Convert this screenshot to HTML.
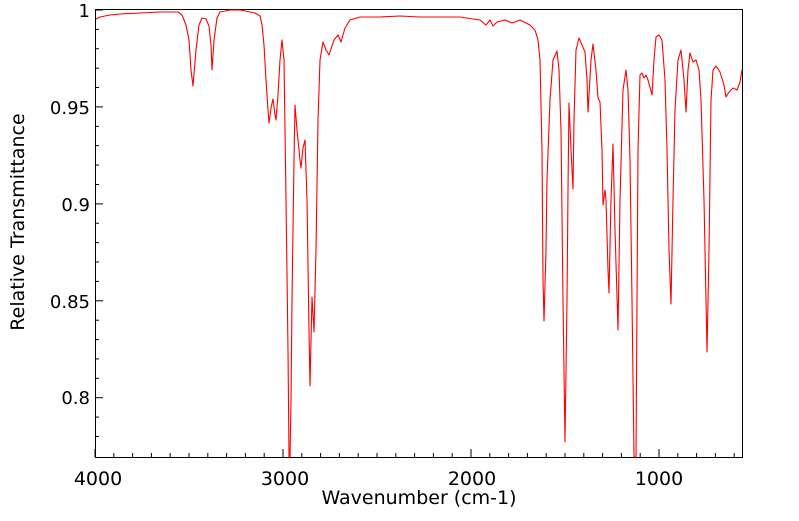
<!DOCTYPE html>
<html><head><meta charset="utf-8"><style>
body{margin:0;background:#fff}
svg text{font-family:"DejaVu Sans","Liberation Sans",sans-serif;fill:#000}
</style></head><body>
<svg width="799" height="516" viewBox="0 0 799 516" xmlns="http://www.w3.org/2000/svg">
<g stroke="#000" stroke-width="1" fill="none">
<line x1="95" y1="457" x2="95" y2="449"/><line x1="113.8" y1="457" x2="113.8" y2="453"/><line x1="132.6" y1="457" x2="132.6" y2="453"/><line x1="151.4" y1="457" x2="151.4" y2="453"/><line x1="170.2" y1="457" x2="170.2" y2="453"/><line x1="189" y1="457" x2="189" y2="453"/><line x1="207.8" y1="457" x2="207.8" y2="453"/><line x1="226.6" y1="457" x2="226.6" y2="453"/><line x1="245.4" y1="457" x2="245.4" y2="453"/><line x1="264.2" y1="457" x2="264.2" y2="453"/>
<line x1="283" y1="457" x2="283" y2="449"/><line x1="301.8" y1="457" x2="301.8" y2="453"/><line x1="320.6" y1="457" x2="320.6" y2="453"/><line x1="339.4" y1="457" x2="339.4" y2="453"/><line x1="358.2" y1="457" x2="358.2" y2="453"/><line x1="377" y1="457" x2="377" y2="453"/><line x1="395.8" y1="457" x2="395.8" y2="453"/><line x1="414.6" y1="457" x2="414.6" y2="453"/><line x1="433.4" y1="457" x2="433.4" y2="453"/><line x1="452.2" y1="457" x2="452.2" y2="453"/>
<line x1="471" y1="457" x2="471" y2="449"/><line x1="489.8" y1="457" x2="489.8" y2="453"/><line x1="508.6" y1="457" x2="508.6" y2="453"/><line x1="527.4" y1="457" x2="527.4" y2="453"/><line x1="546.2" y1="457" x2="546.2" y2="453"/><line x1="565" y1="457" x2="565" y2="453"/><line x1="583.8" y1="457" x2="583.8" y2="453"/><line x1="602.6" y1="457" x2="602.6" y2="453"/><line x1="621.4" y1="457" x2="621.4" y2="453"/><line x1="640.2" y1="457" x2="640.2" y2="453"/>
<line x1="659" y1="457" x2="659" y2="449"/><line x1="677.8" y1="457" x2="677.8" y2="453"/><line x1="696.6" y1="457" x2="696.6" y2="453"/><line x1="715.4" y1="457" x2="715.4" y2="453"/><line x1="734.2" y1="457" x2="734.2" y2="453"/>
<line x1="95" y1="10" x2="103" y2="10"/><line x1="95" y1="29.4" x2="99" y2="29.4"/><line x1="95" y1="48.8" x2="99" y2="48.8"/><line x1="95" y1="68.2" x2="99" y2="68.2"/><line x1="95" y1="87.5" x2="99" y2="87.5"/>
<line x1="95" y1="106.9" x2="103" y2="106.9"/><line x1="95" y1="126.3" x2="99" y2="126.3"/><line x1="95" y1="145.7" x2="99" y2="145.7"/><line x1="95" y1="165.1" x2="99" y2="165.1"/><line x1="95" y1="184.5" x2="99" y2="184.5"/>
<line x1="95" y1="203.9" x2="103" y2="203.9"/><line x1="95" y1="223.2" x2="99" y2="223.2"/><line x1="95" y1="242.6" x2="99" y2="242.6"/><line x1="95" y1="262" x2="99" y2="262"/><line x1="95" y1="281.4" x2="99" y2="281.4"/>
<line x1="95" y1="300.8" x2="103" y2="300.8"/><line x1="95" y1="320.2" x2="99" y2="320.2"/><line x1="95" y1="339.6" x2="99" y2="339.6"/><line x1="95" y1="358.9" x2="99" y2="358.9"/><line x1="95" y1="378.3" x2="99" y2="378.3"/>
<line x1="95" y1="397.7" x2="103" y2="397.7"/><line x1="95" y1="417.1" x2="99" y2="417.1"/><line x1="95" y1="436.5" x2="99" y2="436.5"/>
</g>
<rect x="95.5" y="9.5" width="647" height="448" fill="none" stroke="#000" stroke-width="1"/>
<polyline fill="none" stroke="#ff0000" stroke-width="1.1" stroke-linejoin="round" points="
96,19 100,17 110,15 120,14 140,13 160,12 178,12 182,15 186,25 189,40 191,70 193,86 196,50 199,25 202,18 206,19 209,26 211,45 212,70 214,40 217,18 220,12 230,10 240,10 255,13 260,16 262,25 264,45 266,80 268,110 269,123 271,108 273,99 275,115 276,120 278,95 280,60 282,40 284,60 286,200 288,350 289,457 290,457 291,400 292,300 294,160 295,105 297,130 300,160 301,168 303,148 305,140 307,200 309,330 310,386 312,297 314,332 316,250 318,120 320,60 323,42 326,50 329,55 334,40 338,35 341,42 345,28 350,20 360,17 380,17 400,16 420,17 460,17 480,20 486,25 490,20 493,26 497,22 505,20 512,23 520,20 524,22 530,25 535,30 538,40 540,60 542,150 543,280 544,321 546,250 547,180 550,100 553,60 557,51 559,70 561,130 563,300 565,442 567,300 568,190 569,103 571,150 573,189 574,120 576,50 579,38 582,45 585,52 587,80 588,112 591,60 593,44 596,70 598,98 600,102 602,150 603,205 605,190 606,200 608,270 609,293 611,200 613,144 615,230 618,330 620,200 623,90 626,70 628,90 630,160 632,300 634,457 636,457 637,300 638,150 640,75 642,73 644,78 646,75 648,80 652,95 654,60 656,37 659,35 662,40 665,80 667,150 669,250 671,304 673,200 675,110 678,60 681,50 684,80 686,112 688,70 690,53 693,62 696,60 699,70 701,100 704,200 706,300 707,352 709,250 711,100 713,70 716,66 720,72 724,85 726,97 729,92 733,88 737,90 740,82 742,70"/>
<g font-size="18" text-anchor="end">
<text x="90" y="17">1</text>
<text x="90" y="114">0.95</text>
<text x="90" y="211">0.9</text>
<text x="90" y="308">0.85</text>
<text x="90" y="404">0.8</text>
</g>
<g font-size="19" text-anchor="middle">
<text x="98" y="485">4000</text>
<text x="285" y="485">3000</text>
<text x="472" y="485">2000</text>
<text x="659" y="485">1000</text>
<text x="419" y="504">Wavenumber (cm-1)</text>
<text transform="translate(24,222) rotate(-90)">Relative Transmittance</text>
</g>
</svg>
</body></html>
